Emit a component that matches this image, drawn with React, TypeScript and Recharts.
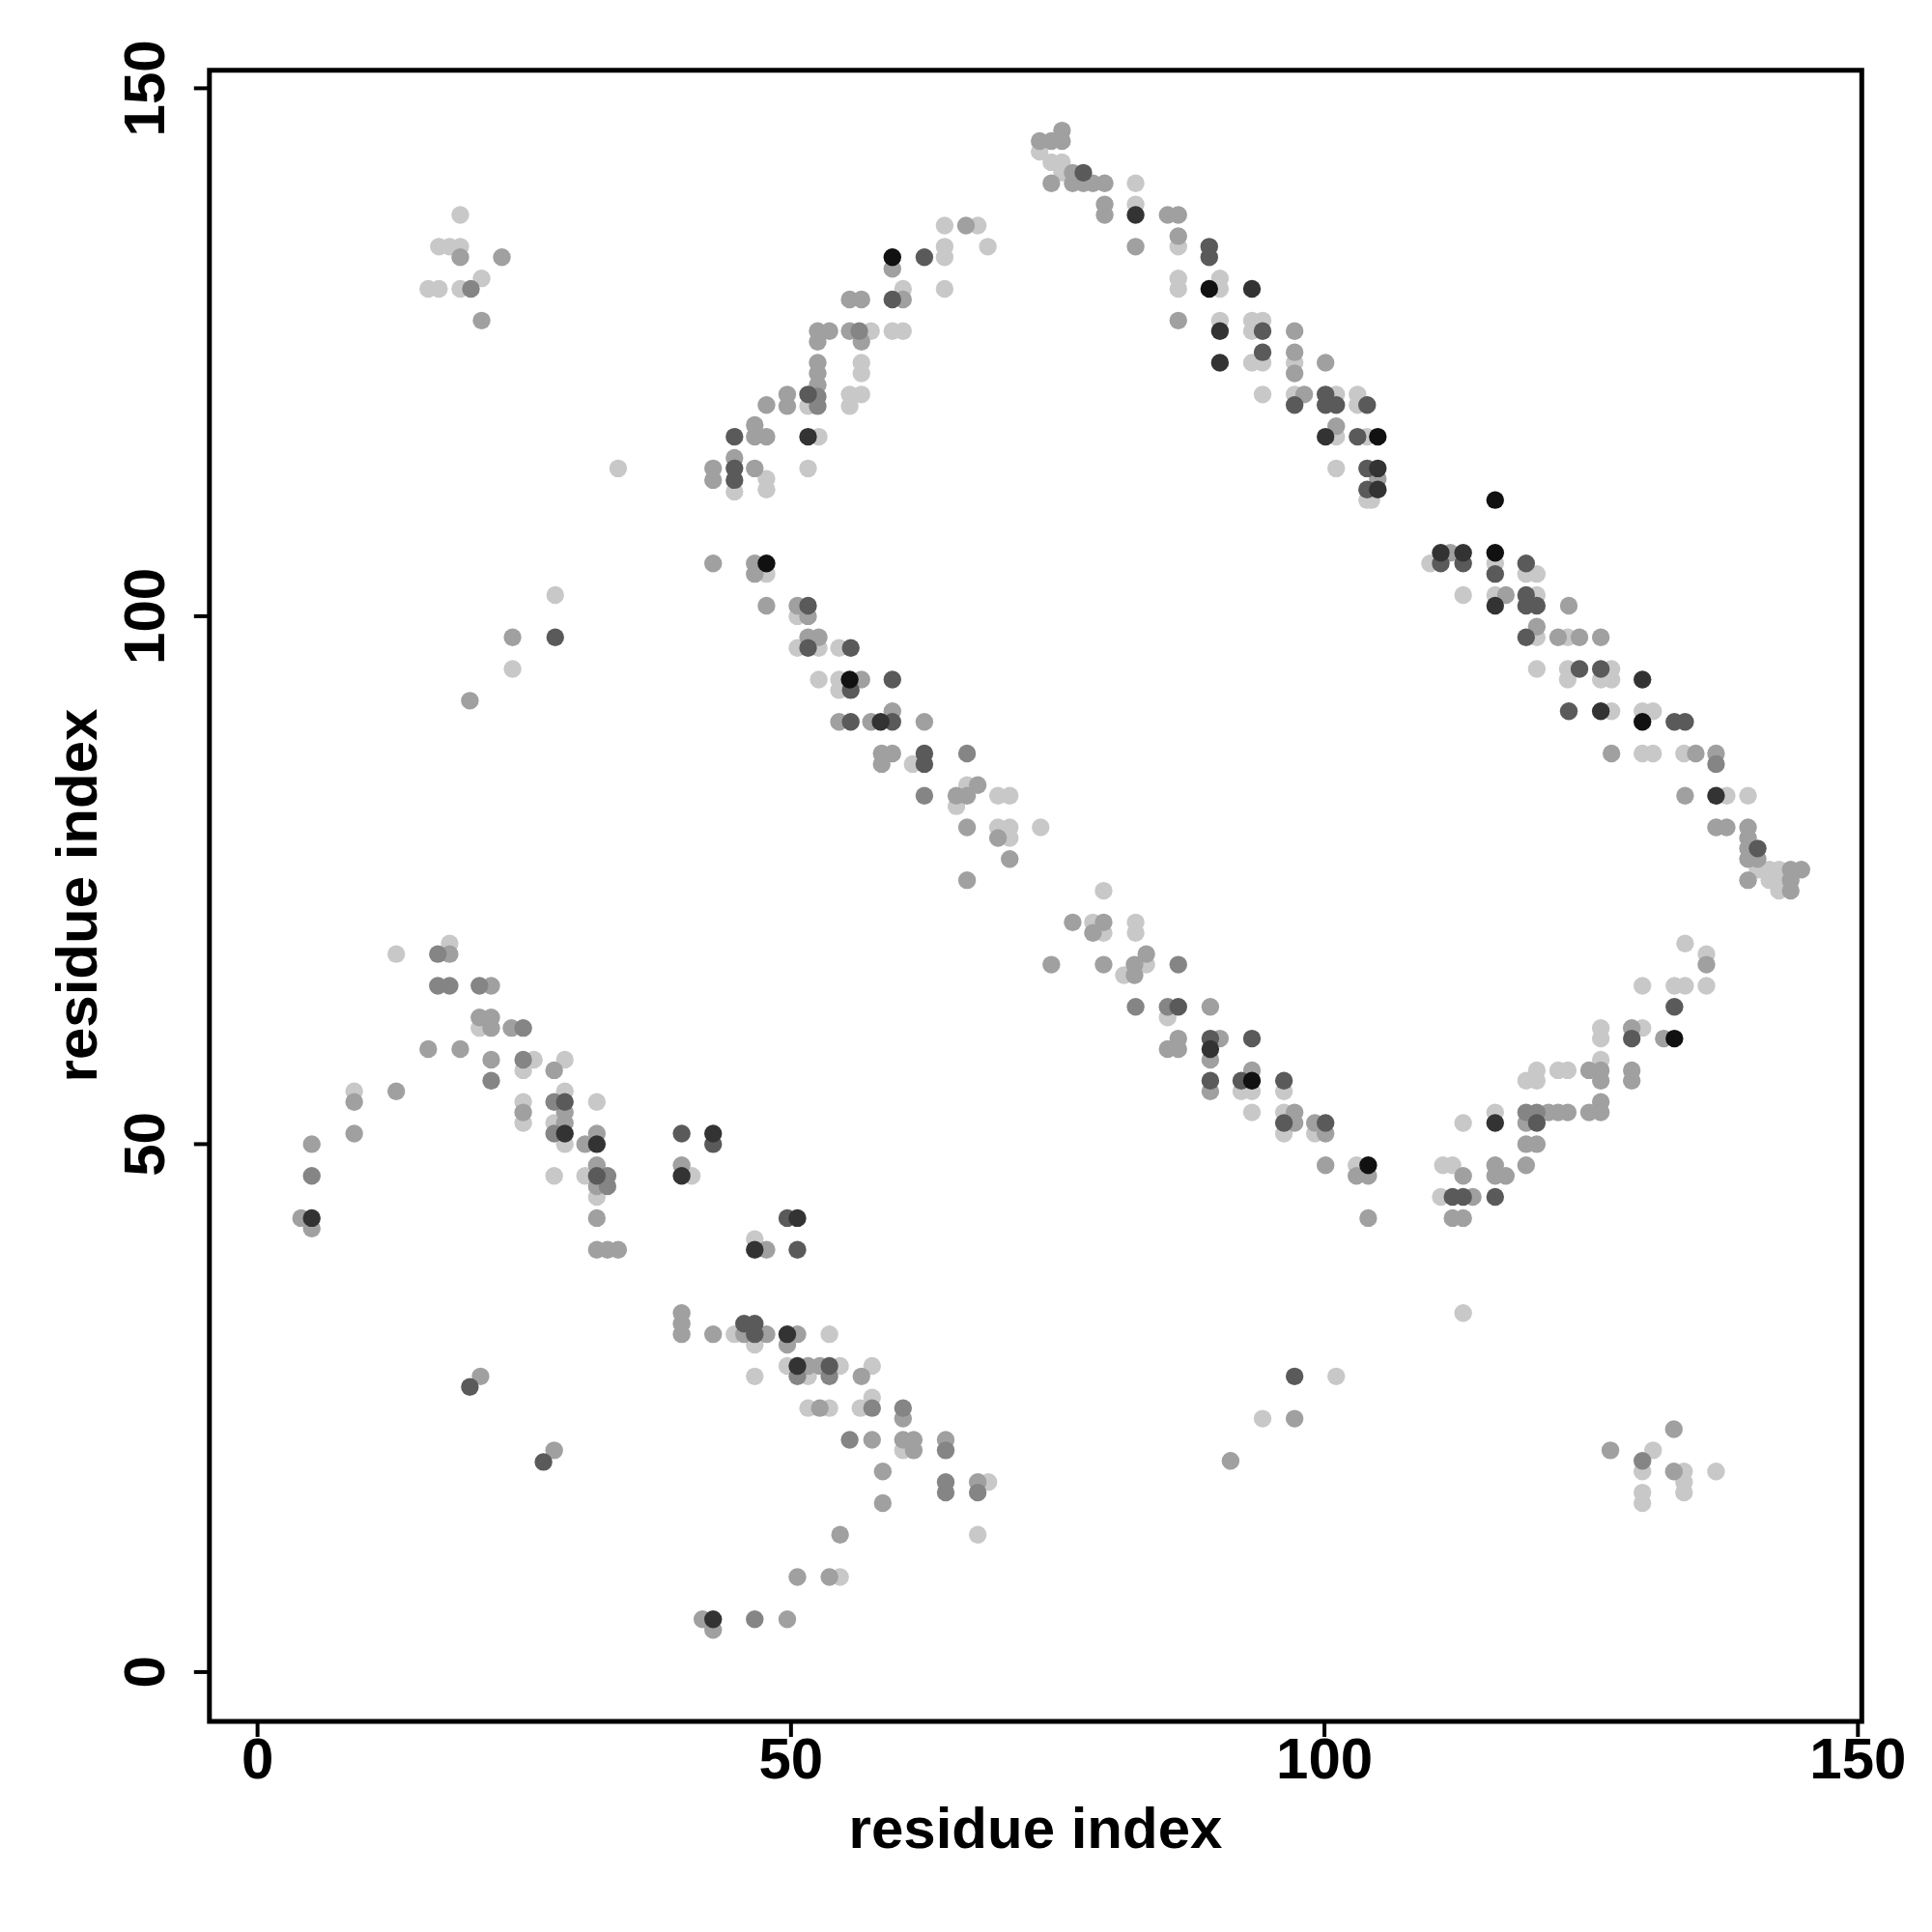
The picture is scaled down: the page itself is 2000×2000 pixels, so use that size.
import React from 'react';
import { ScatterChart, Scatter, XAxis, YAxis, ReferenceArea, Label } from 'recharts';

type P = [number, number];

// contacts, grouped by shade (darkest to lightest)
const shadeBlack: P[] = [
  [59.5,134],[89.2,131],[105,117],[116,111],[116,106],[129.8,90],[132.8,60],
  [47.7,105],[55.5,94],[93.2,56],[104.1,48],
];
const shadeVeryDark: P[] = [
  [51.6,117],[82.3,138],[93.2,131],[90.2,127],[90.2,124],[100.1,117],
  [105,114],[105,112],[110.9,106],[113,106],[116,101],[125.9,91],[129.8,94],
  [136.7,83],[58.4,90],[89.3,59],[116,52],
  [28.8,51],[31.8,50],[5.08,43],
  [42.7,51],[39.75,47],[50.6,43],[46.6,40],[49.65,32],[50.6,29],[42.7,5],
];
const shadeDark: P[] = [
  [27.9,98],
  [62.5,134],[59.5,130],[51.6,121],[44.7,117],[44.7,114],[44.7,112.9],
  [77.4,142],[89.2,135],[89.2,134],[94.2,127],[94.2,125],[97.2,120],[100.1,121],[100.1,120],[101.1,120],[104,120],[103.1,117],[104,114],[104,112],
  [110.9,105],[113,105],[116,104],[118.9,105],[118.9,102],[118.9,101],[119.9,101],[118.9,98],[123.9,95],[125.9,95],[122.9,91],
  [132.8,90],[133.8,90],[140.6,78],
  [51.6,101],[51.6,97],[55.6,97],[55.6,93],[59.5,94],[55.6,90],[59.5,90],[62.5,87],[62.5,86],
  [86.3,63],[89.3,60],[93.2,60],[89.3,56],[92.2,56],[96.2,56],[96.2,52],[100.1,52],
  [132.8,63],[128.8,60],[119.9,52],[112,45],[113,45],[116,45],
  [28.8,54],[31.8,47],
  [39.75,51],[42.7,50],[49.65,43],[50.6,40],[45.6,33],[46.6,33],[46.6,32],[53.6,29],
  [97.2,28],[19.9,27],[26.8,19.9],
];
const shadeMid: P[] = [
  [20,131],
  [56.4,127],[52.5,120.8],[52.5,119.9],
  [136.7,86],[66.5,87],[62.5,83],
  [86.3,67],[82.3,63],[85.3,63],
  [118.9,53],[119.9,53],
  [16.9,68],[16.9,65],[18,65],[20.8,65],[24.9,61],[21.9,56],[24.9,58],[27.8,54],[27.8,51],[5.08,47],[32.8,47],[32.8,46],
  [50.6,28],[53.6,28],
  [57.6,25],[60.5,25],[55.5,22],[64.5,21],[64.5,18],[64.5,17],[67.5,17],[46.6,5],
  [129.8,20],
];
const shadeLightMid: P[] = [
  [19,134],[22.9,134],[21,128],[23.9,98],[19.9,92],
  [66.4,137],[59.5,132.9],[60.5,130],[55.5,130],[56.6,130],[52.5,127],[53.6,127],[52.5,126],[55.5,127],[56.6,126],[52.5,124],[52.5,123],[52.5,121.9],[49.65,121],[49.65,119.9],[47.7,120],[46.6,118.1],[46.6,117],[47.7,117],[42.7,114],[42.7,112.9],[44.7,115],[46.6,114],
  [75.4,146],[73.3,145],[74.4,145],[75.4,145],[74.4,141],[76.4,142],[76.4,141],[77.4,141],[78.3,141],[79.4,141],[79.4,139],[79.4,138],[85.3,138],[86.3,138],[82.3,135],[86.3,136],[86.3,128],[97.2,127],[97.2,125],[97.2,123],[100.1,124],[98.1,121],[101.1,118],
  [105,113],[111.8,106],[117,102],[122.9,101],[119.9,99],[121.9,98],[123.9,98],[125.9,98],[126.9,87],
  [134.8,87],[136.7,87],[133.8,83],[136.7,80],[137.7,80],[139.7,80],[139.7,79],[139.7,78],[139.7,77],[140.6,77],[143.7,76],[144.7,76],[139.7,75],[143.7,75],[143.7,74],
  [42.7,105],[46.6,105],[46.6,104],[47.7,101],[50.6,101],[51.6,100],[51.6,98],[52.6,98],[56.6,94],[54.5,90],[57.5,90],[59.5,91],[62.5,90],[58.5,87],[59.5,87],[58.5,86],[65.5,83],[67.5,84],[66.5,83],[66.5,80],[69.4,79],[70.5,77],[66.5,75],
  [76.4,71],[79.3,71],[78.3,70],[74.4,67],[79.3,67],[83.3,68],[82.2,67],[82.2,66],[89.3,63],[86.3,60],[85.3,59],[86.3,59],[90.2,60],[89.3,58],[89.3,55],[93.2,57],[97.2,53],[97.2,52],[99.1,52],[100.1,51],[100.1,48],[103,47],[104.1,47],[104.1,43],
  [135.8,67],[128.8,61],[131.8,60],[124.8,57],[125.9,57],[125.9,56],[128.8,57],[128.8,56],[121,53],[121.9,53],[122.8,53],[124.8,53],[125.9,54],[125.9,53],[118.9,52],[118.9,50],[119.9,50],[116,48],[116,47],[117,47],[118.9,48],[113,47],[113.9,45],[112,43],[113,43],
  [18,68],[21.9,65],[20.8,62],[21.9,62],[21.9,61],[23.8,61],[21.9,58],[27.8,57],[9.06,54],[13,55],[24.9,53],[28.8,53],[28.8,52],[9.06,51],[5.08,50],[30.7,50],[31.8,51],[31.8,48],[31.8,46],[31.8,43],[4.08,43],[5.08,42],[31.8,40],[32.8,40],[33.8,40],[16,59],[19,59],
  [39.75,48],[47.7,40],[39.75,34],[39.75,33],[39.75,32],[42.7,32],[45.6,32],[47.7,32],[50.6,32],[49.65,31],[51.6,29],[52.7,29],[56.6,28],
  [52.7,25],[60.5,24],[57.6,22],[60.5,22],[61.5,22],[61.5,21],[64.5,22],[58.6,19],[67.5,18],[58.6,16],[54.6,13],[50.6,9],[53.6,9],[41.7,5],[42.7,4],[49.65,5],
  [97.2,24],[91.2,20],[132.75,23],[126.8,21],[132.75,19],
  [20.9,28],[27.8,21],
];
const shadeLight: P[] = [
  [19,138],[17,135],[18,135],[19,135],[21,132],[16,131],[17,131],[19,131],[33.8,114],[27.9,102],[23.9,95],
  [64.4,137],[67.5,137],[68.45,135],[64.4,135],[64.4,134],[64.4,131],[60.5,131],[57.5,127],[59.5,127],[60.5,127],[56.6,124],[56.6,123],[55.5,121],[56.6,121],[55.5,119.9],[51.6,119.9],[52.6,117],[51.6,114],[44.7,111.8],[47.7,113],[47.7,112],
  [73.3,144],[74.4,143],[75.4,143],[75.4,142],[82.3,141],[82.3,139],[86.3,135],[86.3,132],[86.3,131],[90.2,132],[90.2,131],[90.2,128],[93.2,128],[94.2,128],[93.2,127],[93.2,124],[94.2,124],[97.2,124],[94.2,121],[97.2,121],[101.1,121],[103.1,121],[103.1,120],[101.1,117],[104,117],[101.1,114],[104,111],
  [104.4,111],[109.9,105],[116,105],[118.9,104],[119.9,104],[113,102],[116,102],[119.9,102],[119.9,98],[122.8,98],[119.9,95],[122.8,95],[122.8,94],[126.9,95],[125.9,94],[126.9,94],[126.9,91],[129.8,91],[130.8,91],[129.8,87],[130.8,87],
  [133.7,87],[137.7,83],[139.7,83],[140.6,76],[141.7,76],[142.6,76],[141.7,75],[142.6,75],[142.6,74],
  [47.7,104],[50.6,100],[50.6,97],[52.6,97],[54.5,97],[52.6,94],[54.5,94],[54.5,93],[61.4,86],[66.5,84],[65.5,82],[69.4,83],[70.5,83],[69.4,80],[70.5,80],[70.5,79],[73.4,80],
  [79.3,74],[78.3,71],[82.3,71],[82.3,70],[79.3,70],[83.3,67],[81.2,66],[85.3,62],[92.2,55],[93.2,55],[96.2,55],[93.2,53],[96.2,53],[96.2,51],[99.1,51],[103,48],
  [133.8,69],[135.8,68],[129.8,65],[132.8,65],[133.8,65],[135.8,65],[125.9,61],[125.9,60],[129.8,61],[125.9,58],[121.9,57],[122.8,57],[119.9,57],[118.9,56],[119.9,56],[116,53],[113,52],[111.1,48],[112,48],[110.9,45],[113,34],
  [13,68],[18,69],[20.8,61],[25.9,58],[28.8,58],[24.9,57],[9.06,55],[24.9,54],[24.9,52],[28.8,55],[27.8,52],[28.8,50],[31.8,54],[27.8,47],[30.7,47],[31.8,45],
  [40.7,47],[46.6,41],[44.7,32],[46.6,31],[53.6,32],[46.6,28],[49.65,29],[54.6,29],[51.6,28],[57.6,29],[57.6,26],
  [51.6,25],[53.6,25],[56.5,25],[60.5,21],[68.5,18],[67.5,13],[54.6,9],
  [101.1,28],[94.2,24],[130.8,21],[129.8,19],[133.7,19],[133.7,18],[133.7,17],[136.7,19],[129.8,17],[129.8,16],
];

const xTicks = [0, 50, 100, 150];
const yTicks = [0, 50, 100, 150];
const axisTitle = 'residue index';

const X_DOMAIN: [number, number] = [-4.51, 150.36];
const Y_DOMAIN: [number, number] = [-4.675, 151.71];
const FONT = '"Liberation Sans", Arial, Helvetica, sans-serif';
const FS = 60;
const R = 9.2;

const groups: { name: string; pts: P[]; color: string }[] = [
  { name: 'light', pts: shadeLight, color: '#c8c8c8' },
  { name: 'lightmid', pts: shadeLightMid, color: '#a0a0a0' },
  { name: 'mid', pts: shadeMid, color: '#858585' },
  { name: 'dark', pts: shadeDark, color: '#5a5a5a' },
  { name: 'verydark', pts: shadeVeryDark, color: '#333333' },
  { name: 'black', pts: shadeBlack, color: '#111111' },
];

const makeShape = (color: string) => (props: any) => (
  <circle cx={props.cx} cy={props.cy} r={R} fill={color} />
);

const XTick = (props: any) => (
  <text x={props.x} y={1820} textAnchor="middle" dominantBaseline="central"
    fontFamily={FONT} fontWeight={700} fontSize={FS} fill="#000">
    {props.payload.value}
  </text>
);

const YTick = (props: any) => (
  <text x={150} y={props.y} textAnchor="middle" dominantBaseline="central"
    transform={`rotate(-90, 150, ${props.y})`}
    fontFamily={FONT} fontWeight={700} fontSize={FS} fill="#000">
    {props.payload.value}
  </text>
);

export default function App() {
  return (
    <div style={{ position: 'absolute', left: 0, top: 0, width: 2000, height: 2000, background: '#fff' }}>
      <ScatterChart width={2000} height={2000} margin={{ top: 72.7, right: 72.7, bottom: 0, left: 0 }}>
        <XAxis type="number" dataKey="x" domain={X_DOMAIN} ticks={xTicks} allowDataOverflow
          height={218} tickSize={16} axisLine={false}
          tickLine={{ stroke: '#000', strokeWidth: 4 }} tick={<XTick />} interval={0}>
          <Label content={() => (
            <text x={1072} y={1892} textAnchor="middle" dominantBaseline="central"
              fontFamily={FONT} fontWeight={700} fontSize={FS} fill="#000">{axisTitle}</text>
          )} />
        </XAxis>
        <YAxis type="number" dataKey="y" domain={Y_DOMAIN} ticks={yTicks} allowDataOverflow
          width={216.8} tickSize={16} axisLine={false}
          tickLine={{ stroke: '#000', strokeWidth: 4 }} tick={<YTick />} interval={0}>
          <Label content={() => (
            <text x={79} y={927} textAnchor="middle" dominantBaseline="central"
              transform="rotate(-90, 79, 927)"
              fontFamily={FONT} fontWeight={700} fontSize={FS} fill="#000">{axisTitle}</text>
          )} />
        </YAxis>
        {groups.map((g) => (
          <Scatter key={g.name} name={g.name}
            data={g.pts.map(([x, y]) => ({ x, y }))}
            fill={g.color} shape={makeShape(g.color)} isAnimationActive={false} />
        ))}
        <ReferenceArea x1={X_DOMAIN[0]} x2={X_DOMAIN[1]} y1={Y_DOMAIN[0]} y2={Y_DOMAIN[1]}
          fill="none" fillOpacity={0} stroke="#000" strokeWidth={5} ifOverflow="visible" />
      </ScatterChart>
    </div>
  );
}
